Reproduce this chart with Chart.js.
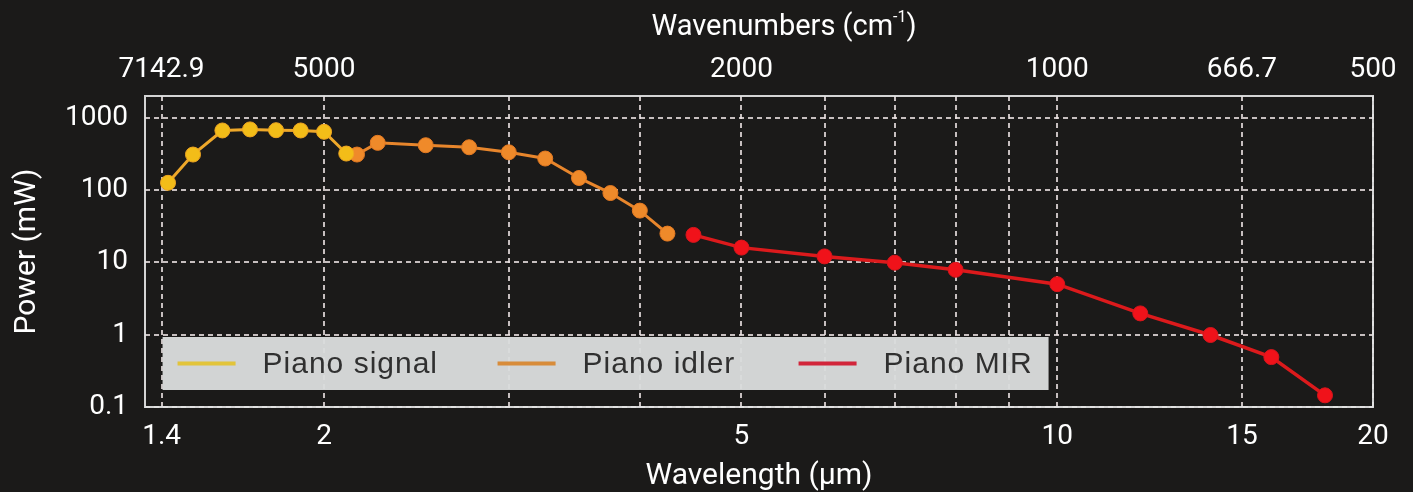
<!DOCTYPE html>
<html lang="en">
<head>
    <meta charset="UTF-8">
    <title>Piano output power</title>
    <script src="https://cdn.jsdelivr.net/npm/chart.js"></script>
    <style>
        body {
            margin: 0;
            background: #1b1a19;
        }
        #wrap {
            width: 1413px;
            height: 492px;
        }
    </style>
</head>
<body>
<div id="wrap"><canvas id="powerChart" width="1413" height="492"></canvas></div>

<script>
    // wavelengths in µm, power in mW
    const signalWl = [1.42, 1.5, 1.6, 1.7, 1.8, 1.9, 2.0, 2.1];
    const signalPower = [126, 310, 667, 690, 673, 667, 640, 320];

    const idlerWl = [2.15, 2.25, 2.5, 2.75, 3.0, 3.25, 3.5, 3.75, 4.0, 4.25];
    const idlerPower = [310, 450, 417, 391, 333, 273, 147, 91, 52, 25];

    const mirWl = [4.5, 5, 6, 7, 8, 10, 12, 14, 16, 18];
    const mirPower = [24, 16, 12.1, 9.9, 7.9, 5, 1.97, 0.99, 0.49, 0.145];

    const xGridTicks = [1.4, 2, 3, 4, 5, 6, 7, 8, 9, 10, 15, 20];
    const xLabelTicks = [1.4, 2, 5, 10, 15, 20];
    const yTicks = [0.1, 1, 10, 100, 1000];

    const seriesNames = ["Piano signal", "Piano idler", "Piano MIR"];
    const legendColors = ["#e2c43a", "#d88c3a", "#d2253a"];

    const axisFont = { family: "Roboto", size: 28 };
    const titleFont = { family: "Roboto", size: 30 };
    const gridColor = "rgba(238, 228, 228, 0.82)";

    function points(xs, ys) {
        return xs.map((x, i) => ({ x: x, y: ys[i] }));
    }

    function wavenumber(v) {
        const w = Math.round(10000 / v * 10) / 10;
        return String(w);
    }

    const frame = {
        id: "frame",
        beforeDatasetsDraw(chart) {
            const { ctx, chartArea } = chart;
            ctx.save();
            ctx.strokeStyle = "rgba(228, 228, 228, 0.92)";
            ctx.lineWidth = 2;
            ctx.strokeRect(chartArea.left, chartArea.top, chartArea.right - chartArea.left, chartArea.bottom - chartArea.top);
            ctx.restore();
        }
    };

    // top axis title with a real superscript (cm^-1)
    const topTitle = {
        id: "topTitle",
        afterDraw(chart) {
            const { ctx, chartArea } = chart;
            const main = "Wavenumbers (cm";
            const sup = "-1";
            const close = ")";
            ctx.save();
            ctx.fillStyle = "#ffffff";
            ctx.textBaseline = "alphabetic";
            ctx.font = "29px Roboto";
            const wMain = ctx.measureText(main).width;
            const wClose = ctx.measureText(close).width;
            ctx.font = "16px Roboto";
            const wSup = ctx.measureText(sup).width;
            const total = wMain + wSup + wClose;
            let x = (chartArea.left + chartArea.right) / 2 + 25 - total / 2;
            const base = 35;
            ctx.font = "29px Roboto";
            ctx.fillText(main, x, base);
            x += wMain;
            ctx.font = "16px Roboto";
            ctx.fillText(sup, x, base - 13);
            x += wSup;
            ctx.font = "29px Roboto";
            ctx.fillText(close, x, base);
            ctx.restore();
        }
    };

    // legend box sits inside the plot, lower left
    const insideLegend = {
        id: "insideLegend",
        afterDatasetsDraw(chart) {
            const { ctx, chartArea } = chart;
            const left = chart.scales.x.getPixelForValue(1.4) + 1;
            const w = 886, h = 53;
            const top = chartArea.bottom - 17 - h;
            const mid = top + h / 2;
            const offsets = [15, 335, 636];
            ctx.save();
            ctx.fillStyle = "rgba(218, 220, 220, 0.96)";
            ctx.fillRect(left, top, w, h);
            ctx.font = '30px "Liberation Sans", Arial, sans-serif';
            ctx.letterSpacing = "1px";
            ctx.textBaseline = "middle";
            chart.data.datasets.forEach((ds, i) => {
                const lx = left + offsets[i];
                ctx.strokeStyle = legendColors[i];
                ctx.lineWidth = 4;
                ctx.beginPath();
                ctx.moveTo(lx, mid);
                ctx.lineTo(lx + 58, mid);
                ctx.stroke();
                ctx.fillStyle = "#303030";
                ctx.fillText(ds.label, lx + 85, mid + 1);
            });
            ctx.restore();
        }
    };

    new Chart(document.getElementById("powerChart"), {
        type: "scatter",
        data: {
            datasets: [
                {
                    label: seriesNames[0],
                    data: points(signalWl, signalPower),
                    showLine: true,
                    borderColor: "#eea82a",
                    backgroundColor: "#f3bd18",
                    pointBorderColor: "#f0a622",
                    borderWidth: 3,
                    pointRadius: 7.5,
                    pointBorderWidth: 1
                },
                {
                    label: seriesNames[1],
                    data: points(idlerWl, idlerPower),
                    showLine: true,
                    borderColor: "#e8862c",
                    backgroundColor: "#ef8a2a",
                    pointBorderColor: "#e57a22",
                    borderWidth: 3,
                    pointRadius: 7.5,
                    pointBorderWidth: 1
                },
                {
                    label: seriesNames[2],
                    data: points(mirWl, mirPower),
                    showLine: true,
                    borderColor: "#dc1a1c",
                    backgroundColor: "#f0121a",
                    pointBorderColor: "#d8161c",
                    borderWidth: 3.5,
                    pointRadius: 7.5,
                    pointBorderWidth: 1
                }
            ]
        },
        options: {
            responsive: false,
            animation: false,
            layout: { padding: { left: 0, right: 40, top: 0, bottom: 0 } },
            plugins: {
                legend: { display: false },
                tooltip: { enabled: false }
            },
            scales: {
                x: {
                    type: "logarithmic",
                    position: "bottom",
                    min: 1.35,
                    max: 20,
                    afterBuildTicks: (s) => { s.ticks = xGridTicks.map(v => ({ value: v })); },
                    afterFit: (s) => { s.height = 85; },
                    ticks: {
                        color: "#ffffff",
                        font: axisFont,
                        padding: 13,
                        maxRotation: 0,
                        autoSkip: false,
                        callback: (v) => xLabelTicks.includes(v) ? String(v) : ""
                    },
                    grid: { color: gridColor, lineWidth: 2, drawTicks: false },
                    border: { display: false, dash: [5, 4] },
                    title: {
                        display: true,
                        text: "Wavelength (µm)",
                        color: "#ffffff",
                        font: titleFont,
                        padding: { top: 0, bottom: -2 }
                    }
                },
                x2: {
                    type: "logarithmic",
                    position: "top",
                    min: 1.35,
                    max: 20,
                    afterBuildTicks: (s) => { s.ticks = xLabelTicks.map(v => ({ value: v })); },
                    afterFit: (s) => { s.height = 96; },
                    ticks: {
                        color: "#ffffff",
                        font: axisFont,
                        padding: 9,
                        maxRotation: 0,
                        autoSkip: false,
                        callback: (v) => wavenumber(v)
                    },
                    grid: { display: false, drawTicks: false },
                    border: { display: false },
                    title: { display: false }
                },
                y: {
                    type: "logarithmic",
                    min: 0.1,
                    max: 2000,
                    afterBuildTicks: (s) => { s.ticks = yTicks.map(v => ({ value: v })); },
                    afterFit: (s) => { s.width = 145; },
                    ticks: {
                        color: "#ffffff",
                        font: axisFont,
                        padding: 17,
                        callback: (v) => String(v)
                    },
                    grid: { color: gridColor, lineWidth: 2, drawTicks: false },
                    border: { display: false, dash: [5, 4] },
                    title: {
                        display: true,
                        text: "Power (mW)",
                        color: "#ffffff",
                        font: titleFont,
                        padding: { top: 9, bottom: 0 }
                    }
                }
            }
        },
        plugins: [frame, insideLegend, topTitle]
    });
</script>
</body>
</html>
